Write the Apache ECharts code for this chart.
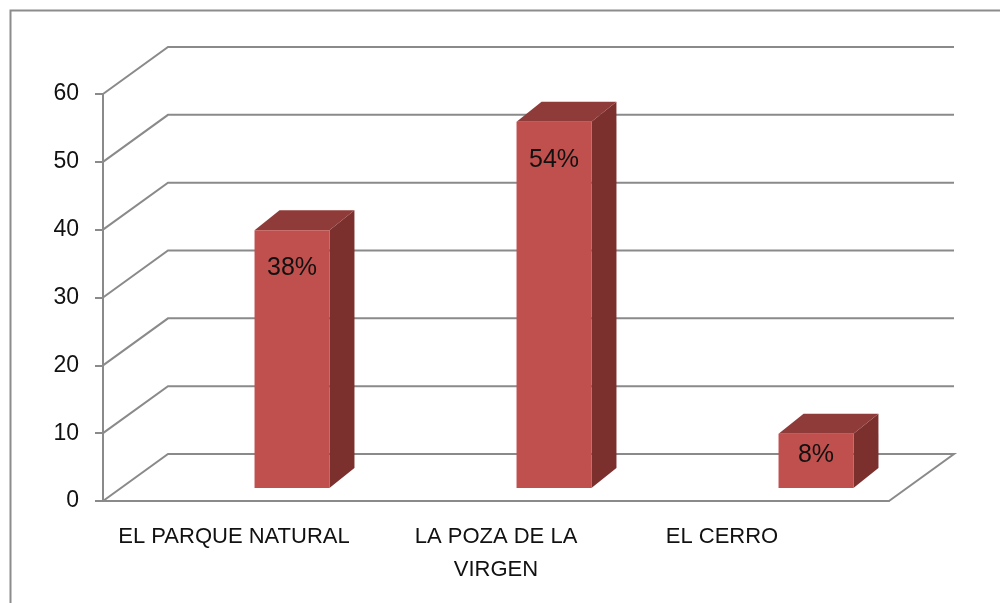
<!DOCTYPE html>
<html>
<head>
<meta charset="utf-8">
<script src="https://cdn.jsdelivr.net/npm/echarts@6/dist/echarts.min.js"></script>
<style>html,body{margin:0;padding:0;background:#fff}#c{width:1000px;height:603px}</style>
</head>
<body>
<div id="c"></div>
<script>
var categories = ['EL PARQUE NATURAL', 'LA POZA DE LA\nVIRGEN', 'EL CERRO'];
var values = [38, 54, 8];
var labels = ['38%', '54%', '8%'];
var yTicks = [0, 10, 20, 30, 40, 50, 60];

var DX = 65, DY = -47;          // wall depth offset
var BX = 58, BY = -13;          // bar placement inside depth
var BDX = 25, BDY = -20;        // bar depth
var GRID = '#8a8a8a';

var chart = echarts.init(document.getElementById('c'));
chart.setOption({
  backgroundColor: '#fff',
  animation: false,
  graphic: [{
    type: 'rect', left: 8, top: 8,
    shape: { width: 1000, height: 600 },
    style: { fill: 'none', stroke: '#8c8c8c', lineWidth: 2 }
  }],
  grid: { left: 103, right: 111, top: 94, bottom: 102 },
  xAxis: {
    type: 'category',
    data: categories,
    axisLine: { lineStyle: { color: GRID, width: 2 } },
    axisTick: { length: 7, lineStyle: { color: GRID, width: 2 } },
    axisLabel: {
      margin: 19,
      fontFamily: 'Liberation Sans',
      fontSize: 22,
      lineHeight: 33,
      color: '#111',
      interval: 0,
      formatter: function (v, i) {
        return i === 2 ? '{s|' + v + '}' : v;
      },
      rich: { s: { fontFamily: 'Liberation Sans', fontSize: 22, color: '#111', padding: [0, 72, 0, 0] } }
    }
  },
  yAxis: {
    type: 'value',
    min: 0, max: 60, interval: 10,
    axisLine: { show: true, lineStyle: { color: GRID, width: 2 } },
    axisTick: { show: true, length: 8, lineStyle: { color: GRID, width: 2 } },
    splitLine: { show: false },
    axisLabel: { margin: 24, fontFamily: 'Liberation Sans', fontSize: 23, color: '#111' }
  },
  series: [{
    type: 'custom',
    data: yTicks.map(function (t) { return [0, t]; }),
    encode: { x: 0, y: 1 },
    z: 1,
    renderItem: function (params, api) {
      var cs = params.coordSys;
      var v = api.value(1);
      var y = api.coord([0, v])[1];
      var x0 = cs.x, x1 = cs.x + cs.width;
      var pts = [[x0, y], [x0 + DX, y + DY], [x1 + DX, y + DY]];
      if (v === 0) pts.push([x1, y]);
      return {
        type: 'polyline',
        shape: { points: pts },
        style: { stroke: GRID, lineWidth: 2, fill: null }
      };
    }
  }, {
    type: 'custom',
    data: values.map(function (v, i) { return [i, v]; }),
    encode: { x: 0, y: 1 },
    z: 3,
    renderItem: function (params, api) {
      var i = api.value(0), v = api.value(1);
      var base = api.coord([i, 0]);
      var topP = api.coord([i, v]);
      var w = api.size([1, 0])[0] * 0.286;
      var cx = base[0] + BX;
      var l = cx - w / 2, r = cx + w / 2;
      var b = base[1] + BY, t = topP[1] + BY;
      var h = b - t;
      var ty = t + Math.min(38, h / 2 - 6);
      return {
        type: 'group',
        children: [{
          type: 'polygon',
          shape: { points: [[r, t], [r + BDX, t + BDY], [r + BDX, b + BDY], [r, b]] },
          style: { fill: '#7b302e' }
        }, {
          type: 'polygon',
          shape: { points: [[l, t], [l + BDX, t + BDY], [r + BDX, t + BDY], [r, t]] },
          style: { fill: '#8f3b39' }
        }, {
          type: 'rect',
          shape: { x: l, y: t, width: r - l, height: h },
          style: { fill: '#c0504d' }
        }, {
          type: 'text',
          x: cx, y: ty,
          style: {
            text: labels[params.dataIndex],
            fontFamily: 'Liberation Sans', fontSize: 25, fill: '#111',
            align: 'center', verticalAlign: 'middle'
          }
        }]
      };
    }
  }]
});
</script>
</body>
</html>
